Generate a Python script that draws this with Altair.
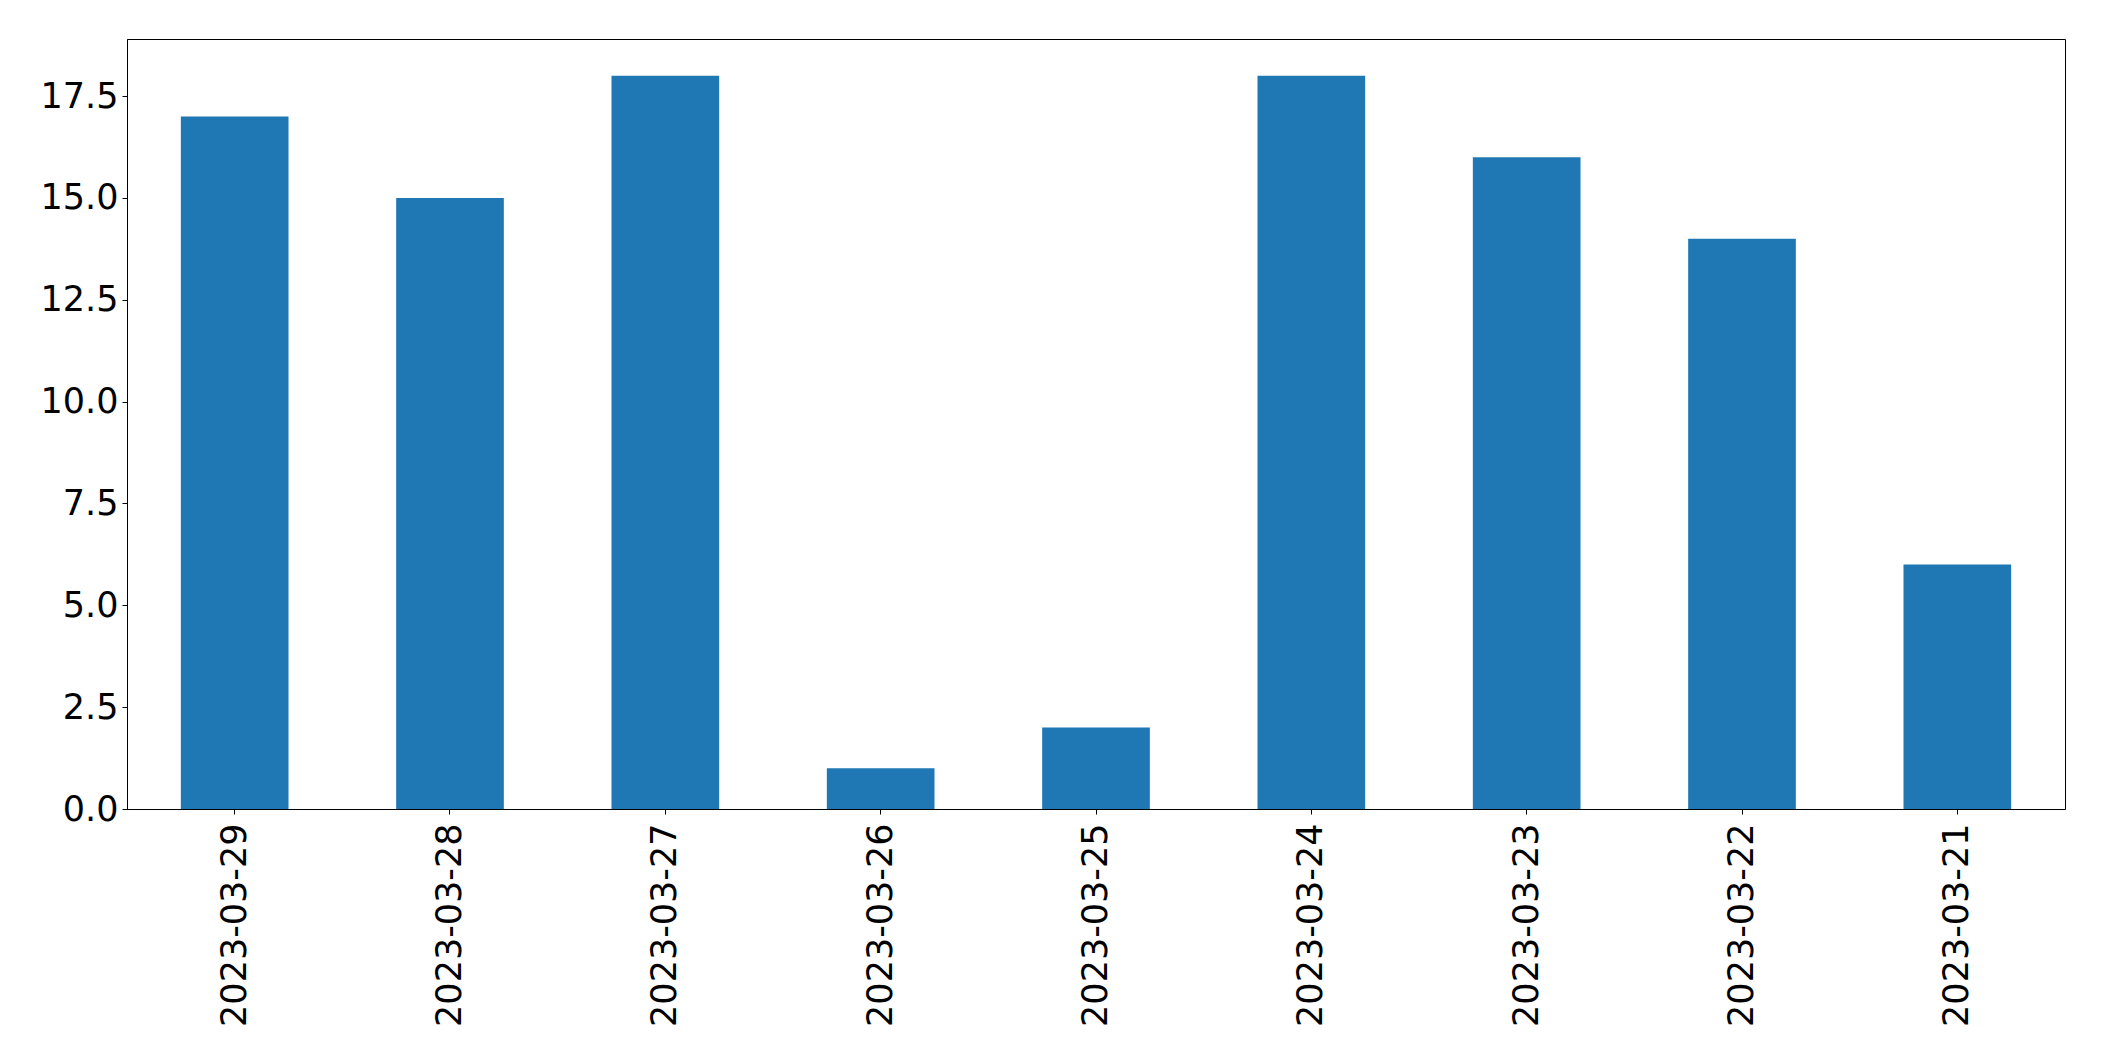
import altair as alt
import pandas as pd

dates = ["2023-03-29", "2023-03-28", "2023-03-27", "2023-03-26", "2023-03-25",
         "2023-03-24", "2023-03-23", "2023-03-22", "2023-03-21"]
counts = [17, 15, 18, 1, 2, 18, 16, 14, 6]
y_ticks = [0, 2.5, 5, 7.5, 10, 12.5, 15, 17.5]

df = pd.DataFrame({"date": dates, "count": counts})

FONT = "DejaVu Sans"
FS = 35

chart = alt.Chart(df).mark_bar(color="#1f77b4").encode(
    x=alt.X("date:N", sort=None, title=None,
            scale=alt.Scale(paddingInner=0.5, paddingOuter=0.25),
            axis=alt.Axis(labelAngle=-90, labelFontSize=FS, labelFont=FONT,
                          labelColor="black", tickColor="black", tickSize=5,
                          labelPadding=9, domainColor="black", labelBaseline="middle",
                          labelAlign="right", labelLimit=1000)),
    y=alt.Y("count:Q", title=None,
            scale=alt.Scale(domain=[0, 18.9], nice=False, zero=True),
            axis=alt.Axis(values=y_ticks, format=".1f", labelFontSize=FS, labelFont=FONT,
                          labelColor="black", tickColor="black", tickSize=5,
                          labelPadding=4, domainColor="black", grid=False,
                          labelLimit=1000)),
).properties(
    width=1938, height=770,
    autosize=alt.AutoSizeParams(type="none"),
    padding={"left": 119, "top": 31, "right": 30, "bottom": 236},
).configure_view(stroke="black", strokeWidth=1).configure_axis(grid=False)

chart.save("out.html", embed_options={"renderer": "svg", "actions": False})
